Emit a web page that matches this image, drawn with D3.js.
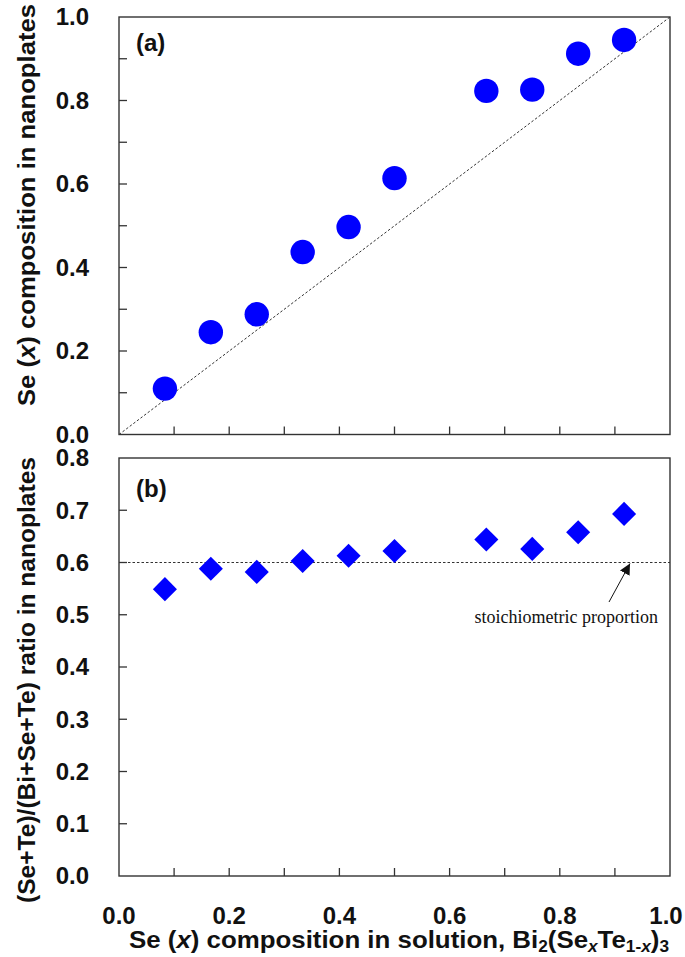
<!DOCTYPE html>
<html><head><meta charset="utf-8">
<script src="https://cdn.jsdelivr.net/npm/d3@7"></script>
<style>body{margin:0;background:#fff}svg{display:block}</style>
</head><body>
<svg id="c" width="685" height="957"></svg>
<script>
const xSolution = [1/12, 2/12, 3/12, 4/12, 5/12, 6/12, 8/12, 9/12, 10/12, 11/12];
const seComposition = [0.110, 0.245, 0.288, 0.437, 0.497, 0.614, 0.823, 0.826, 0.912, 0.945];
const ratio = [0.549, 0.588, 0.582, 0.603, 0.613, 0.622, 0.644, 0.626, 0.658, 0.693];
const stoichRatio = 0.6;
const xTickLabels = ["0.0","0.2","0.4","0.6","0.8","1.0"];
const yTicksA = ["0.0","0.2","0.4","0.6","0.8","1.0"];
const yTicksB = ["0.0","0.1","0.2","0.3","0.4","0.5","0.6","0.7","0.8"];

const svg = d3.select("#c");
const L = 119, R = 670;
const x = d3.scaleLinear().domain([0,1]).range([L,R]);
const yA = d3.scaleLinear().domain([0,1]).range([434.5,17]);
const yB = d3.scaleLinear().domain([0,0.8]).range([876,458]);
const sans = "'Liberation Sans', Arial, sans-serif";
const frameCol = "#333";
const ink = "#111";

function frame(y) {
  const [b,t] = y.range();
  svg.append("rect").attr("x",L).attr("y",t).attr("width",R-L).attr("height",b-t)
    .attr("fill","none").attr("stroke",frameCol).attr("stroke-width",1.4);
}
function ticks(y, yvals, xvals, len) {
  const [b] = y.range();
  yvals.forEach(v => svg.append("line").attr("x1",L).attr("x2",L+len)
    .attr("y1",y(v)).attr("y2",y(v)).attr("stroke",frameCol).attr("stroke-width",1.3));
  xvals.forEach(v => svg.append("line").attr("x1",x(v)).attr("x2",x(v))
    .attr("y1",b).attr("y2",b-len).attr("stroke",frameCol).attr("stroke-width",1.3));
}
const tenths = d3.range(1,10).map(i=>i/10);

// Panel A
svg.append("line").attr("x1",x(0)).attr("y1",yA(0)).attr("x2",x(1)).attr("y2",yA(1))
  .attr("stroke","#333").attr("stroke-width",1).attr("stroke-dasharray","2.5,2");
frame(yA);
ticks(yA, tenths, tenths, 8);
yTicksA.forEach(t => svg.append("text").attr("x",89).attr("y",yA(+t)).attr("dy","0.35em")
  .attr("text-anchor","end").attr("font-family",sans).attr("font-weight","bold")
  .attr("font-size",24).attr("fill",ink).text(t));
svg.selectAll(".ca").data(xSolution).enter().append("circle")
  .attr("cx",(d)=>x(d)).attr("cy",(d,i)=>yA(seComposition[i])).attr("r",12.2).attr("fill","#0000ff");
svg.append("text").attr("x",136).attr("y",51).attr("font-family",sans).attr("font-weight","bold")
  .attr("font-size",24).attr("fill",ink).text("(a)");
svg.append("text").attr("transform",`translate(35,205) rotate(-90)`).attr("text-anchor","middle")
  .attr("font-family",sans).attr("font-weight","bold").attr("font-size",24).attr("fill",ink)
  .attr("textLength",402).attr("lengthAdjust","spacingAndGlyphs")
  .html('Se (<tspan font-style="italic">x</tspan>) composition in nanoplates');

// Panel B
svg.append("line").attr("x1",x(0)).attr("x2",x(1)).attr("y1",yB(stoichRatio)).attr("y2",yB(stoichRatio))
  .attr("stroke","#333").attr("stroke-width",1).attr("stroke-dasharray","2.5,2");
frame(yB);
ticks(yB, d3.range(1,8).map(i=>i/10), tenths, 8);
yTicksB.forEach(t => svg.append("text").attr("x",89).attr("y",yB(+t)).attr("dy","0.35em")
  .attr("text-anchor","end").attr("font-family",sans).attr("font-weight","bold")
  .attr("font-size",24).attr("fill",ink).text(t));
svg.selectAll(".db").data(xSolution).enter().append("path")
  .attr("d",d3.symbol().type(d3.symbolSquare).size(290))
  .attr("transform",(d,i)=>`translate(${x(d)},${yB(ratio[i])}) rotate(45)`).attr("fill","#0000ff");
svg.append("text").attr("x",136).attr("y",497).attr("font-family",sans).attr("font-weight","bold")
  .attr("font-size",24).attr("fill",ink).text("(b)");
xTickLabels.forEach(t => svg.append("text").attr("x",Math.min(x(+t),666)).attr("y",915).attr("dy","0.36em")
  .attr("text-anchor","middle").attr("font-family",sans).attr("font-weight","bold")
  .attr("font-size",24).attr("fill",ink).text(t));
svg.append("text").attr("transform",`translate(35,680) rotate(-90)`).attr("text-anchor","middle")
  .attr("font-family",sans).attr("font-weight","bold").attr("font-size",24).attr("fill",ink)
  .attr("textLength",446).attr("lengthAdjust","spacingAndGlyphs")
  .text("(Se+Te)/(Bi+Se+Te) ratio in nanoplates");
svg.append("text").attr("x",399).attr("y",948).attr("text-anchor","middle")
  .attr("font-family",sans).attr("font-weight","bold").attr("font-size",24).attr("fill",ink)
  .attr("textLength",540).attr("lengthAdjust","spacingAndGlyphs")
  .html('Se (<tspan font-style="italic">x</tspan>) composition in solution, Bi<tspan font-size="16" dy="4">2</tspan><tspan dy="-4">(Se</tspan><tspan font-size="16" font-style="italic" dy="4">x</tspan><tspan dy="-4">Te</tspan><tspan font-size="16" dy="4">1-<tspan font-style="italic">x</tspan></tspan><tspan dy="-4">)</tspan><tspan font-size="16" dy="4">3</tspan>');

// annotation
svg.append("defs").append("marker").attr("id","ah").attr("viewBox","0 0 10 10").attr("refX",10).attr("refY",5)
  .attr("markerWidth",11).attr("markerHeight",11).attr("markerUnits","userSpaceOnUse").attr("orient","auto")
  .append("path").attr("d","M0,0 L10,5 L0,10 z").attr("fill",ink);
svg.append("line").attr("x1",609).attr("y1",602).attr("x2",630).attr("y2",yB(stoichRatio)+1)
  .attr("stroke",ink).attr("stroke-width",1).attr("marker-end","url(#ah)");
svg.append("text").attr("x",658).attr("y",623).attr("text-anchor","end")
  .attr("font-family","'Liberation Serif','Times New Roman',serif").attr("font-size",18).attr("fill",ink)
  .text("stoichiometric proportion");
</script>
</body></html>
